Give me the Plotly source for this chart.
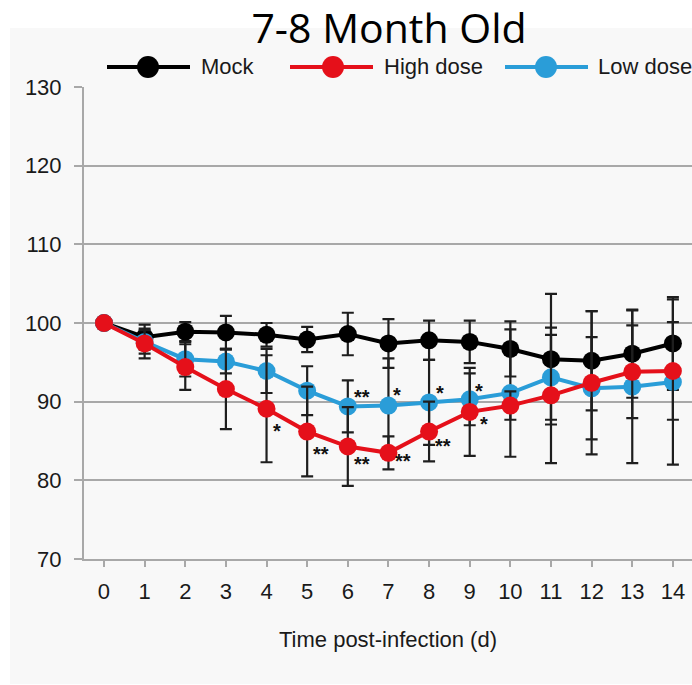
import plotly.graph_objects as go

# Body weight (% of day 0) after infection, 7-8 month old animals
days = list(range(15))
series_names = ["Mock", "High dose", "Low dose"]

mock = [100, 98.2, 98.9, 98.8, 98.5, 97.9, 98.6, 97.4, 97.8, 97.6, 96.7, 95.4, 95.2, 96.1, 97.4]
mock_err = [0, 1.6, 1.2, 2.1, 1.5, 1.6, 2.7, 3.1, 2.5, 2.7, 3.5, 8.3, 6.3, 5.6, 5.9]

high = [100, 97.4, 94.4, 91.6, 89.1, 86.2, 84.3, 83.5, 86.2, 88.7, 89.5, 90.8, 92.4, 93.8, 93.9]
high_err = [0, 1.9, 2.9, 5.1, 6.8, 5.7, 5.0, 2.1, 3.8, 5.6, 1.8, 8.6, 9.1, 5.9, 6.2]

low = [100, 97.6, 95.4, 95.1, 93.9, 91.4, 89.4, 89.5, 89.9, 90.3, 91.1, 93.1, 91.7, 91.9, 92.5]
low_err = [0, 1.5, 2.2, 1.5, 2.8, 3.1, 3.3, 6.0, 5.4, 3.3, 8.1, 5.4, 6.5, 9.7, 10.5]

# significance marks: (day, text)
sig_high = [(4, "*"), (5, "**"), (6, "**"), (7, "**"), (8, "**"), (9, "*")]
sig_low = [(6, "**"), (7, "*"), (8, "*"), (9, "*")]

y_ticks = [70, 80, 90, 100, 110, 120, 130]
x_ticks = days

colors = {"Mock": "#000000", "High dose": "#e5101a", "Low dose": "#2a9dd8"}
values = {"Mock": (mock, mock_err), "High dose": (high, high_err), "Low dose": (low, low_err)}

# pixel nudges of the significance marks relative to their point (dx, dy)
high_mark_shift = {4: (10, -22), 5: (14, -22), 6: (14, -17), 7: (15, -8), 8: (14, -14), 9: (14, -12)}
low_mark_shift = {6: (14, 9), 7: (9, 11), 8: (11, 9), 9: (9, 8)}

FONT = "Liberation Sans, Arial, sans-serif"
TXT = "#1a1a1a"
GRID = "#a8a8a8"
PANEL = "#f8f8f8"

# plot-area geometry (px)
W, H = 692, 685
L, R, T, B = 84, 0, 87, 126
PW, PH = W - L - R, H - T - B


def px_x(px):
    return (px - L) / PW


def px_y(py):
    return (H - B - py) / PH


fig = go.Figure()

# draw order: mock underneath, red on top
for name in ["Mock", "Low dose", "High dose"]:
    vals, errs = values[name]
    fig.add_trace(go.Scatter(
        x=days, y=vals, name=name, mode="lines+markers",
        line=dict(color=colors[name], width=4),
        marker=dict(color=colors[name], size=18, line=dict(width=0)),
        error_y=dict(type="data", array=errs, visible=True,
                     color="#1e1e1e", thickness=2.2, width=6),
        showlegend=False,
    ))

star_font = dict(family=FONT, size=20, color="#111111")
for marks, vals, shifts in [(sig_high, high, high_mark_shift), (sig_low, low, low_mark_shift)]:
    for d, txt in marks:
        dx, dy = shifts[d]
        fig.add_annotation(x=d, y=vals[d], text="<b>" + txt + "</b>", showarrow=False,
                           font=star_font, xanchor="center", yanchor="middle",
                           xshift=dx, yshift=dy)

# panel background
shapes = [dict(type="rect", xref="paper", yref="paper", layer="below",
               x0=px_x(10), x1=1.0, y0=px_y(684), y1=px_y(28),
               fillcolor=PANEL, line=dict(width=0))]

# legend row
legend_items = [
    ("Mock", 107, 190, 148, 199),
    ("High dose", 290, 373, 333, 382),
    ("Low dose", 505, 588, 546, 596),
]
ly = px_y(67)
for name, a, b, c, t in legend_items:
    shapes.append(dict(type="line", xref="paper", yref="paper",
                       x0=px_x(a), x1=px_x(b), y0=ly, y1=ly,
                       line=dict(color=colors[name], width=4)))
    shapes.append(dict(type="circle", xref="paper", yref="paper",
                       xsizemode="pixel", ysizemode="pixel",
                       xanchor=px_x(c), yanchor=ly, x0=-11, x1=11, y0=-11, y1=11,
                       fillcolor=colors[name], line=dict(width=0)))
    fig.add_annotation(xref="paper", yref="paper", x=px_x(t), y=ly, text=name,
                       showarrow=False, xanchor="left", yanchor="middle",
                       font=dict(family=FONT, size=22, color=TXT))

fig.update_layout(
    width=W, height=H,
    margin=dict(l=L, r=R, t=T, b=B),
    paper_bgcolor="white",
    plot_bgcolor="rgba(0,0,0,0)",
    shapes=shapes,
    title=dict(text="7-8 Month Old", x=px_x(389), xref="paper", xanchor="center",
               y=1 - 29 / H, yref="container", yanchor="middle",
               font=dict(family="Open Sans, Lato, sans-serif", size=41, color="#000000")),
    font=dict(family=FONT, size=22, color=TXT),
)

fig.update_xaxes(
    range=[-0.492, 14.47], tickvals=x_ticks, ticktext=[str(v) for v in x_ticks],
    showgrid=False, zeroline=False,
    showline=True, linecolor=GRID, linewidth=2,
    ticks="outside", ticklen=6, tickwidth=2, tickcolor=GRID,
    ticklabelstandoff=6,
    tickfont=dict(family=FONT, size=22, color=TXT),
    title=dict(text="Time post-infection (d)", standoff=28,
               font=dict(family=FONT, size=22, color=TXT)),
)
fig.update_yaxes(
    range=[70, 130], tickvals=y_ticks,
    showgrid=True, gridcolor=GRID, gridwidth=2, zeroline=False,
    showline=True, linecolor=GRID, linewidth=2,
    ticks="outside", ticklen=8, tickwidth=2, tickcolor=GRID,
    ticklabelstandoff=8,
    tickfont=dict(family=FONT, size=22, color=TXT),
)

fig.write_html("out.html")
